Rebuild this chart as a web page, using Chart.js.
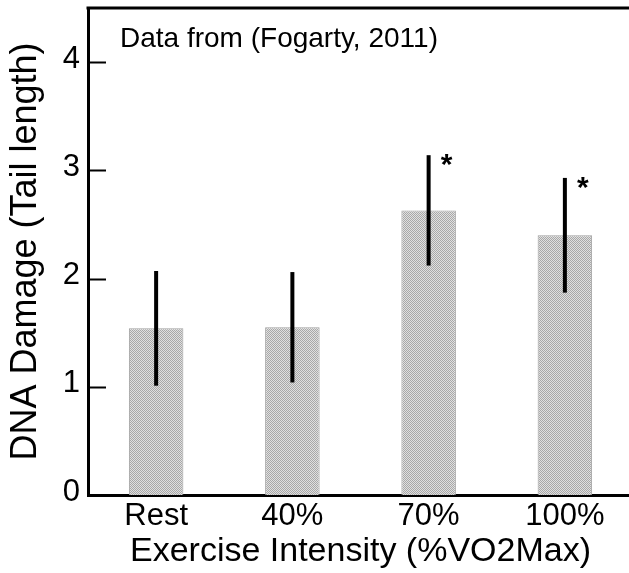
<!DOCTYPE html>
<html>
<head>
<meta charset="utf-8">
<script src="https://cdn.jsdelivr.net/npm/chart.js@4"></script>
<style>
    html, body { margin: 0; padding: 0; background: #fff; overflow: hidden; }
    #wrap { width: 633px; height: 573px; position: relative; }
</style>
</head>
<body>
<div id="wrap"><canvas id="chart"></canvas></div>
<script>
// Data
const categories = ['Rest', '40%', '70%', '100%'];
const damage = [1.54, 1.55, 2.63, 2.40];
const damageErr = [0.53, 0.51, 0.51, 0.53];
const significant = [false, false, true, true];
const yMin = 0, yMax = 4.5, minorStep = 0.2;
const note = 'Data from (Fogarty, 2011)';

const FONT = "'Liberation Sans', Arial, sans-serif";
const canvas = document.getElementById('chart');

// fine dotted grey fill like the original bars
function dotPattern() {
    const c = document.createElement('canvas');
    c.width = 2; c.height = 2;
    const g = c.getContext('2d');
    g.fillStyle = '#e0e0e0'; g.fillRect(0, 0, 2, 2);
    g.fillStyle = '#a8a8a8'; g.fillRect(0, 0, 1, 1); g.fillRect(1, 1, 1, 1);
    return canvas.getContext('2d').createPattern(c, 'repeat');
}

const onStep = v => Math.abs(v / minorStep - Math.round(v / minorStep)) < 1e-6;

const extras = {
    id: 'extras',
    afterDatasetsDraw(chart) {
        const { ctx, scales: { y } } = chart;
        const bars = chart.getDatasetMeta(0).data;
        ctx.save();
        ctx.strokeStyle = '#000';
        ctx.fillStyle = '#000';
        ctx.lineWidth = 4;
        bars.forEach((bar, i) => {
            const hi = y.getPixelForValue(damage[i] + damageErr[i]);
            const lo = y.getPixelForValue(damage[i] - damageErr[i]);
            ctx.beginPath(); ctx.moveTo(bar.x, hi); ctx.lineTo(bar.x, lo); ctx.stroke();
            if (significant[i]) {
                ctx.font = 'bold 30px ' + FONT;
                ctx.textAlign = 'center';
                ctx.textBaseline = 'alphabetic';
                ctx.fillText('*', bar.x + 18, hi + 19);
            }
        });
        ctx.restore();
    },
    afterDraw(chart) {
        const { ctx, chartArea: a, scales: { y } } = chart;
        ctx.save();
        // inward ticks on the y axis
        ctx.strokeStyle = '#000';
        ctx.lineWidth = 2;
        y.ticks.forEach(t => {
            const py = Math.round(y.getPixelForValue(t.value)) + 0.5;
            const len = Number.isInteger(t.value) ? 18 : 10;
            ctx.beginPath(); ctx.moveTo(a.left, py); ctx.lineTo(a.left + len, py); ctx.stroke();
        });
        // top frame line
        ctx.lineWidth = 3;
        ctx.beginPath(); ctx.moveTo(a.left - 1.5, a.top); ctx.lineTo(a.right, a.top); ctx.stroke();
        // source note
        ctx.fillStyle = '#000';
        ctx.font = '28px ' + FONT;
        ctx.textAlign = 'left';
        ctx.textBaseline = 'alphabetic';
        ctx.fillText(note, a.left + 32, 47);
        ctx.restore();
    }
};

new Chart(canvas, {
    type: 'bar',
    data: {
        labels: categories,
        datasets: [{
            data: damage,
            backgroundColor: dotPattern(),
            borderColor: '#a0a0a0',
            borderWidth: 1,
            barPercentage: 0.4,
            categoryPercentage: 1
        }]
    },
    options: {
        responsive: true,
        maintainAspectRatio: false,
        animation: false,
        layout: { padding: { top: 8, right: 0, bottom: 0, left: 0 } },
        plugins: { legend: { display: false }, tooltip: { enabled: false } },
        scales: {
            x: {
                z: 1,
                grid: { display: false, drawTicks: false },
                border: { display: true, color: '#000', width: 3 },
                ticks: { color: '#000', font: { family: FONT, size: 31 }, padding: 3 },
                title: {
                    display: true, text: 'Exercise Intensity (%VO2Max)', color: '#000',
                    font: { family: FONT, size: 34 }, padding: { top: 0, bottom: 1 }
                },
                afterFit(s) { s.height = 78; s.paddingLeft = 0; s.paddingRight = 0; }
            },
            y: {
                z: 1,
                min: yMin, max: yMax,
                grid: { display: false, drawTicks: false },
                border: { display: true, color: '#000', width: 3 },
                ticks: {
                    stepSize: minorStep, autoSkip: false, color: '#000',
                    font: { family: FONT, size: 31 }, padding: 8, labelOffset: -3,
                    callback: v => Number.isInteger(v) ? v : null
                },
                afterBuildTicks(s) { s.ticks = s.ticks.filter(t => onStep(t.value)); },
                title: {
                    display: true, text: 'DNA Damage (Tail length)', color: '#000',
                    font: { family: FONT, size: 36 }, padding: { top: 4, bottom: 0 }
                },
                afterFit(s) { s.width = 88; s.paddingTop = 0; s.paddingBottom = 0; }
            }
        }
    },
    plugins: [extras]
});
</script>
</body>
</html>
